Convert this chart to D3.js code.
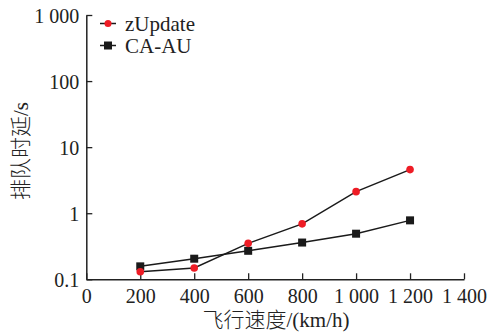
<!DOCTYPE html>
<html>
<head>
<meta charset="utf-8">
<script src="https://cdn.jsdelivr.net/npm/d3@7"></script>
<style>
  html, body { margin: 0; padding: 0; background: #fff; }
  svg { display: block; }
  text { font-family: "Liberation Serif", "Noto Sans CJK SC", serif; fill: #222; }
  .cjk { font-weight: 300; }
</style>
</head>
<body>
<svg id="chart" width="491" height="332"></svg>
<script>
const speeds = [200, 400, 600, 800, 1000, 1200];
const zUpdate = [0.13, 0.148, 0.35, 0.69, 2.12, 4.57];
const caAU = [0.157, 0.205, 0.27, 0.36, 0.49, 0.78];
const seriesNames = ["zUpdate", "CA-AU"];
const xTicks = [0, 200, 400, 600, 800, 1000, 1200, 1400];
const xTickLabels = ["0", "200", "400", "600", "800", "1 000", "1 200", "1 400"];
const yTicks = [0.1, 1, 10, 100, 1000];
const yTickLabels = ["0.1", "1", "10", "100", "1 000"];
const xTitle = "飞行速度/(km/h)";
const yTitle = "排队时延/s";

const svg = d3.select("#chart");
const x = d3.scaleLinear().domain([0, 1400]).range([86.3, 464]);
const y = d3.scaleLog().domain([0.1, 1000]).range([279.3, 15]);

const axisColor = "#222";
const fs = 20;

// X axis
const xAxis = svg.append("g").attr("transform", `translate(0,${y(0.1)})`)
  .call(d3.axisBottom(x).tickValues(xTicks).tickSizeInner(-6).tickSizeOuter(0).tickFormat((d, i) => xTickLabels[i]));
xAxis.select(".domain").attr("stroke", axisColor).attr("stroke-width", 1.5);
xAxis.selectAll(".tick line").attr("stroke", axisColor).attr("stroke-width", 1.3);
xAxis.selectAll(".tick text").attr("font-size", fs).attr("font-family", "Liberation Serif")
  .attr("fill", "#222").attr("dy", null).attr("y", 23.5);

// Y axis
const yAxis = svg.append("g").attr("transform", `translate(${x(0)},0)`)
  .call(d3.axisLeft(y).tickValues(yTicks).tickSizeInner(-6).tickSizeOuter(0).tickFormat((d, i) => yTickLabels[i]));
yAxis.select(".domain").attr("stroke", axisColor).attr("stroke-width", 1.5);
yAxis.selectAll(".tick line").attr("stroke", axisColor).attr("stroke-width", 1.3);
yAxis.selectAll(".tick text").attr("font-size", fs).attr("font-family", "Liberation Serif")
  .attr("fill", "#222").attr("x", -7).attr("dy", null).attr("y", 7.5);

// Lines
const line = d3.line().x((d, i) => x(speeds[i])).y(d => y(d));
svg.append("path").datum(zUpdate).attr("d", line).attr("fill", "none").attr("stroke", "#1a1a1a").attr("stroke-width", 1.5);
svg.append("path").datum(caAU).attr("d", line).attr("fill", "none").attr("stroke", "#1a1a1a").attr("stroke-width", 1.5);

// Markers
svg.selectAll(".sq").data(caAU).enter().append("rect")
  .attr("x", (d, i) => x(speeds[i]) - 4).attr("y", d => y(d) - 4)
  .attr("width", 8).attr("height", 8).attr("fill", "#1a1a1a");
svg.selectAll(".ci").data(zUpdate).enter().append("circle")
  .attr("cx", (d, i) => x(speeds[i])).attr("cy", d => y(d)).attr("r", 3.8).attr("fill", "#ee1c25");

// Legend
const legY = [23.5, 45.5];
seriesNames.forEach((name, i) => {
  const g = svg.append("g");
  g.append("line").attr("x1", 100).attr("x2", 116).attr("y1", legY[i]).attr("y2", legY[i])
    .attr("stroke", "#1a1a1a").attr("stroke-width", 1.5);
  if (i === 0) {
    g.append("circle").attr("cx", 108).attr("cy", legY[i]).attr("r", 3.5).attr("fill", "#ee1c25");
  } else {
    g.append("rect").attr("x", 104).attr("y", legY[i] - 4).attr("width", 8).attr("height", 8).attr("fill", "#1a1a1a");
  }
  g.append("text").attr("x", 125).attr("y", legY[i] + 7.5).attr("font-size", 21).text(name);
});

// Titles
svg.append("text").attr("class", "cjk").attr("x", 276).attr("y", 327).attr("text-anchor", "middle").attr("font-size", 21).text(xTitle);
svg.append("text").attr("class", "cjk").attr("transform", "translate(28,151) rotate(-90)").attr("text-anchor", "middle")
  .attr("font-size", 21).text(yTitle);
</script>
</body>
</html>
